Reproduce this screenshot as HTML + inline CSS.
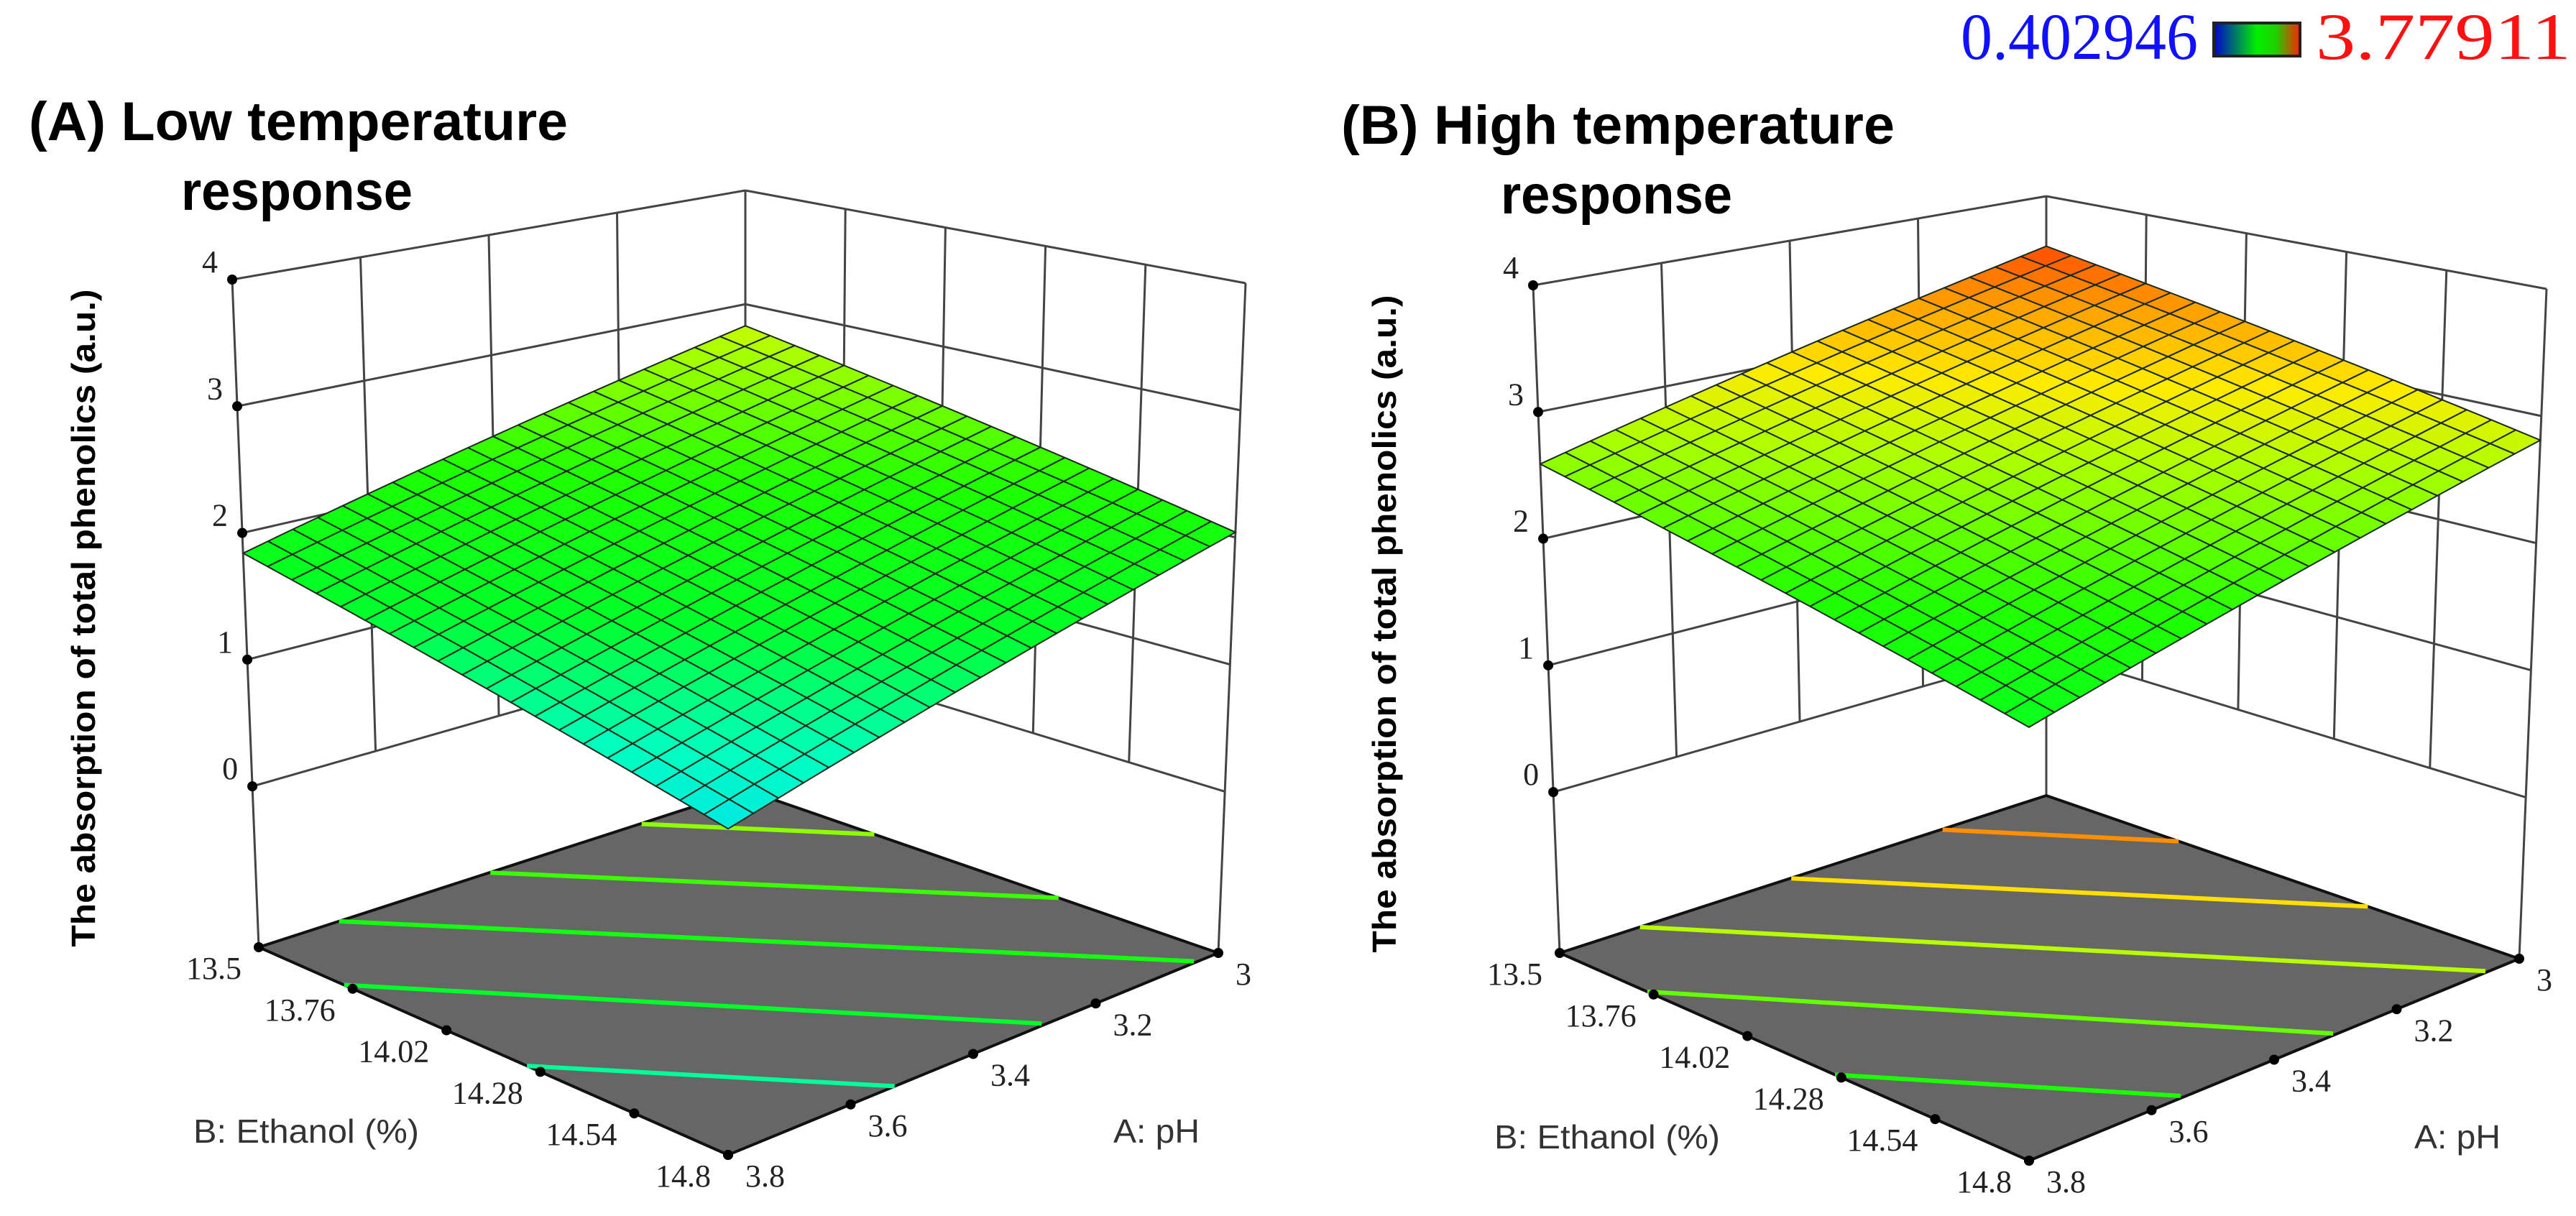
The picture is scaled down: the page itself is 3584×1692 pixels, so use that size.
<!DOCTYPE html>
<html><head><meta charset="utf-8"><style>
html,body{margin:0;padding:0;background:#fff}
svg{display:block}
</style></head><body>
<svg id="fig" xmlns="http://www.w3.org/2000/svg" width="3584" height="1692" viewBox="0 0 3584 1692">
<defs>
<linearGradient id="cbg" x1="0" x2="1" y1="0" y2="0">
<stop offset="0" stop-color="#0000d0"/><stop offset="0.5" stop-color="#00f000"/><stop offset="0.72" stop-color="#20d000"/><stop offset="1" stop-color="#ff2000"/>
</linearGradient>
</defs>
<g>
<text x="2728" y="82" font-family="Liberation Serif, serif" font-size="92" fill="#1010ff" textLength="330" lengthAdjust="spacingAndGlyphs">0.402946</text>
<rect x="3080" y="32" width="120" height="46" fill="url(#cbg)" stroke="#222" stroke-width="4"/>
<text x="3222" y="82" font-family="Liberation Serif, serif" font-size="92" fill="#ff1010" textLength="355" lengthAdjust="spacingAndGlyphs">3.77911</text>
</g>
<g id="panelA"></g>
<g id="panelB"></g>
</svg>
<script>
// ---- data ----
const phTicks = [3, 3.2, 3.4, 3.6, 3.8];
const phTickLabels = ["3", "3.2", "3.4", "3.6", "3.8"];
const ethTicks = [13.5, 13.76, 14.02, 14.28, 14.54, 14.8];
const ethTickLabels = ["13.5", "13.76", "14.02", "14.28", "14.54", "14.8"];
const zTicks = [0, 1, 2, 3, 4];
const zTickLabels = ["0", "1", "2", "3", "4"];
// response at corners: (pH3,E13.5), (pH3,E14.8), (pH3.8,E13.5), (pH3.8,E14.8)
const lowResponse = [2.81, 2.04, 1.84, 1.07];
const highResponse = [3.56, 2.81, 2.59, 1.84];
const lowContourLevels = [1.4, 1.7, 2.0, 2.3, 2.6];
const highContourLevels = [2.15, 2.45, 2.75, 3.05, 3.35];

const NS = "http://www.w3.org/2000/svg";
const PH_MIN = 3, PH_MAX = 3.8, ETH_MIN = 13.5, ETH_MAX = 14.8, Z_FLOOR = -1.27, Z_TOP = 4;
const GRID = 20;
const cStops = [[0.9,[0,215,255]],[1.3,[0,255,190]],[1.7,[0,255,40]],[2.2,[30,255,0]],[2.7,[170,255,0]],[3.0,[255,235,0]],[3.3,[255,160,0]],[3.6,[255,60,0]]];
function colorOf(z){
  if(z<=cStops[0][0]) return "rgb("+cStops[0][1].join(",")+")";
  for(let i=1;i<cStops.length;i++){
    if(z<=cStops[i][0]){
      const a=cStops[i-1],b=cStops[i],t=(z-a[0])/(b[0]-a[0]);
      return "rgb("+a[1].map((c,k)=>Math.round(c+(b[1][k]-c)*t)).join(",")+")";
    }
  }
  return "rgb("+cStops[cStops.length-1][1].join(",")+")";
}
function mk(tag, attrs, parent){
  const el=document.createElementNS(NS,tag);
  for(const k in attrs) el.setAttribute(k,attrs[k]);
  parent.appendChild(el);
  return el;
}
function drawPanel(g, dx, dy, resp, levels){
  const floor = {b:[1037,1099], l:[360,1318], r:[1695,1326], f:[1013,1607]};
  const top = {b:[1037,265], l:[323,389], r:[1733,394], f:[1013,585]};
  function bil(c, p, e){
    return [
      c.b[0]*(1-p)*(1-e)+c.r[0]*(1-p)*e+c.l[0]*p*(1-e)+c.f[0]*p*e,
      c.b[1]*(1-p)*(1-e)+c.r[1]*(1-p)*e+c.l[1]*p*(1-e)+c.f[1]*p*e];
  }
  const pOf = ph => (ph-PH_MIN)/(PH_MAX-PH_MIN);
  const eOf = et => (et-ETH_MIN)/(ETH_MAX-ETH_MIN);
  function proj(p, e, z){
    const a=bil(floor,p,e), b=bil(top,p,e), t=(z-Z_FLOOR)/(Z_TOP-Z_FLOOR);
    return [a[0]+(b[0]-a[0])*t+dx, a[1]+(b[1]-a[1])*t+dy];
  }
  const respAt = (p,e) => resp[0]*(1-p)*(1-e)+resp[1]*(1-p)*e+resp[2]*p*(1-e)+resp[3]*p*e;
  const pts = arr => arr.map(q=>q[0].toFixed(1)+","+q[1].toFixed(1)).join(" ");
  const line = (a,b,w,col,name)=>{
    const el=mk("line",{x1:a[0],y1:a[1],x2:b[0],y2:b[1],stroke:col,"stroke-width":w},g);
    
    
    return el;
  };
  phTicks.forEach(ph=>{
    const p=pOf(ph);
    const zs = (p===0||p===1)? Z_FLOOR : 0;
    line(proj(p,0,zs),proj(p,0,4),3,"#444","left-wall-gridline");
  });
  ethTicks.forEach(et=>{
    const e=eOf(et);
    const zs = (e===1)? Z_FLOOR : 0;
    line(proj(0,e,zs),proj(0,e,4),3,"#444","right-wall-gridline");
  });
  zTicks.forEach(z=>{
    line(proj(1,0,z),proj(0,0,z),3,"#444","left-wall-z-gridline");
    line(proj(0,0,z),proj(0,1,z),3,"#444","right-wall-z-gridline");
  });
  const fl=mk("polygon",{points:pts([proj(0,0,Z_FLOOR),proj(0,1,Z_FLOOR),proj(1,1,Z_FLOOR),proj(1,0,Z_FLOOR)]),fill:"#666666",stroke:"#111","stroke-width":4,"stroke-linejoin":"round"},g);
  
  
  levels.forEach(lev=>{
    const poly=[];
    for(let i=0;i<=200;i++){
      const p=i/200;
      const A=resp[0]*(1-p)+resp[2]*p, B=(resp[1]-resp[0])*(1-p)+(resp[3]-resp[2])*p;
      if(Math.abs(B)<1e-9) continue;
      const e=(lev-A)/B;
      if(e>=0&&e<=1) poly.push(proj(p,e,Z_FLOOR));
    }
    if(poly.length>1){
      const ends=[poly[0],poly[poly.length-1]];
      const pl=mk("polyline",{points:pts(ends),fill:"none",stroke:colorOf(lev),"stroke-width":6},g);
      
      
    }
  });
  ethTicks.forEach((et,i)=>{
    const q=proj(1,eOf(et),Z_FLOOR);
    const d=mk("circle",{cx:q[0],cy:q[1],r:7,fill:"#000"},g);
    
    
    const t=mk("text",{x:q[0]-24,y:q[1]+44,"text-anchor":"end","font-family":"Liberation Serif, serif","font-size":44,fill:"#222"},g);
    t.textContent=ethTickLabels[i];
    
    
  });
  phTicks.forEach((ph,i)=>{
    const q=proj(pOf(ph),1,Z_FLOOR);
    const d=mk("circle",{cx:q[0],cy:q[1],r:7,fill:"#000"},g);
    
    
    const t=mk("text",{x:q[0]+24,y:q[1]+44,"text-anchor":"start","font-family":"Liberation Serif, serif","font-size":44,fill:"#222"},g);
    t.textContent=phTickLabels[i];
    
    
  });
  zTicks.forEach((z,i)=>{
    const q=proj(1,0,z);
    const d=mk("circle",{cx:q[0],cy:q[1],r:7,fill:"#000"},g);
    
    
    const t=mk("text",{x:q[0]-20,y:q[1]-10,"text-anchor":"end","font-family":"Liberation Serif, serif","font-size":44,fill:"#222"},g);
    t.textContent=zTickLabels[i];
    
    
  });
  const cells=[];
  for(let i=0;i<GRID;i++) for(let j=0;j<GRID;j++) cells.push([i,j]);
  cells.sort((a,b)=>(a[0]+a[1])-(b[0]+b[1]));
  const sg=mk("g",{},g);
  
  
  cells.forEach(([i,j])=>{
    const p0=i/GRID,p1=(i+1)/GRID,e0=j/GRID,e1=(j+1)/GRID;
    const zc=respAt((p0+p1)/2,(e0+e1)/2);
    const poly=[proj(p0,e0,respAt(p0,e0)),proj(p0,e1,respAt(p0,e1)),proj(p1,e1,respAt(p1,e1)),proj(p1,e0,respAt(p1,e0))];
    const c=mk("polygon",{points:pts(poly),fill:colorOf(zc),stroke:"#1c2a1c","stroke-width":2,"stroke-linejoin":"round"},sg);
    
    
  });
}
drawPanel(document.getElementById("panelA"),0,0,lowResponse,lowContourLevels);
drawPanel(document.getElementById("panelB"),1810,8,highResponse,highContourLevels);

const labels=[
 {x:40,y:195,s:"(A) Low temperature",len:750,sz:76,w:"bold",n:"panel-a-title-line1"},
 {x:252,y:292,s:"response",len:322,sz:76,w:"bold",n:"panel-a-title-line2"},
 {x:1866,y:200,s:"(B) High temperature",len:770,sz:76,w:"bold",n:"panel-b-title-line1"},
 {x:2088,y:297,s:"response",len:322,sz:76,w:"bold",n:"panel-b-title-line2"},
 {x:269,y:1590,s:"B: Ethanol (%)",len:314,sz:46,w:"normal",n:"panel-a-x-axis-title"},
 {x:1549,y:1590,s:"A: pH",len:120,sz:46,w:"normal",n:"panel-a-y-axis-title"},
 {x:2079,y:1598,s:"B: Ethanol (%)",len:314,sz:46,w:"normal",n:"panel-b-x-axis-title"},
 {x:1549+1810,y:1598,s:"A: pH",len:120,sz:46,w:"normal",n:"panel-b-y-axis-title"}
];
const svg=document.getElementById("fig");
labels.forEach(L=>{
  const t=document.createElementNS(NS,"text");
  t.setAttribute("x",L.x);t.setAttribute("y",L.y);
  t.setAttribute("font-family","Liberation Sans, sans-serif");
  t.setAttribute("font-size",L.sz);t.setAttribute("font-weight",L.w);
  t.setAttribute("fill",L.w==="bold"?"#000":"#333");
  t.setAttribute("textLength",L.len);t.setAttribute("lengthAdjust","spacingAndGlyphs");
  t.textContent=L.s;
  
  
  svg.appendChild(t);
});
[[132,860,"panel-a-z-axis-title"],[1942,868,"panel-b-z-axis-title"]].forEach(([x,y,n])=>{
  const t=document.createElementNS(NS,"text");
  t.setAttribute("x",x);t.setAttribute("y",y);
  t.setAttribute("transform","rotate(-90 "+x+" "+y+")");
  t.setAttribute("text-anchor","middle");
  t.setAttribute("font-family","Liberation Sans, sans-serif");
  t.setAttribute("font-size",46);t.setAttribute("font-weight","bold");
  t.setAttribute("textLength",915);t.setAttribute("lengthAdjust","spacingAndGlyphs");
  t.setAttribute("xml:space","preserve");
  t.textContent="The absorption  of total phenolics  (a.u.)";
  
  
  svg.appendChild(t);
});
</script>
</body></html>
